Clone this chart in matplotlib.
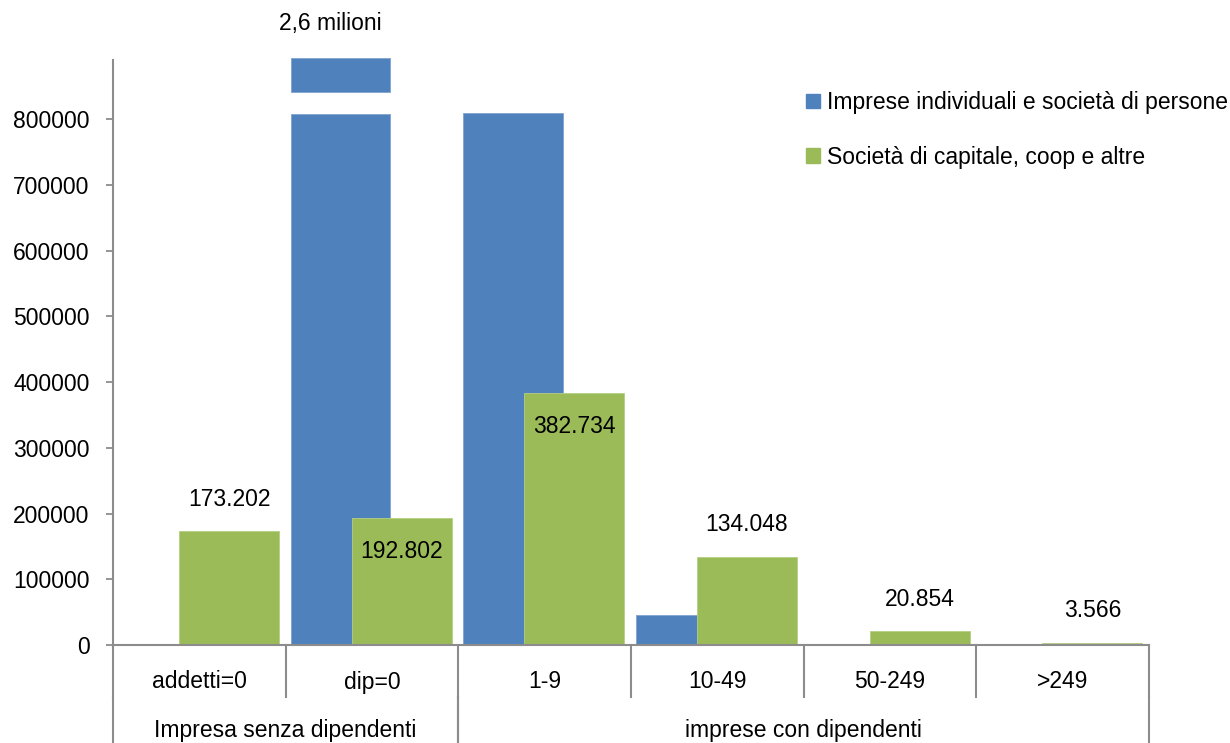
import matplotlib.pyplot as plt
from matplotlib.patches import Patch

plt.rcParams['font.family'] = ['Liberation Sans', 'DejaVu Sans']

categories = ['addetti=0', 'dip=0', '1-9', '10-49', '50-249', '>249']
groups = ['Impresa senza dipendenti', 'imprese con dipendenti']
group_spans = [(0, 2), (2, 6)]
series_names = ['Imprese individuali e società di persone',
                'Società di capitale, coop e altre']
blue_vals = [0, 2600000, 809000, 45600, 0, 0]
green_vals = [173202, 192802, 382734, 134048, 20854, 3566]
green_label_inside = [False, True, True, False, False, False]

# broken bar for dip=0 (real value 2,6 milioni)
break_low = 808000
break_high = 841000
break_top = 893000
big_label = '2,6 milioni'

blue = '#4F81BD'
green = '#9BBB59'
axis_gray = '#8c8c8c'
fs = 16.5


def fmt_it(v):
    return f'{v:,}'.replace(',', '.')


fig = plt.figure(figsize=(12.3, 7.43), dpi=100)
ax = fig.add_axes([113 / 1230, 98 / 743, 1036 / 1230, 585 / 743])

w = 0.578
off_b = 0.318
off_g = 0.672
ymax = 890000

for i, v in enumerate(blue_vals):
    if v > ymax:
        ax.bar(i + off_b, break_low, width=w, color=blue, edgecolor='#7fa3d0', linewidth=0.6)
        ax.bar(i + off_b, break_top - break_high, bottom=break_high, width=w,
               color=blue, edgecolor='#7fa3d0', linewidth=0.6, clip_on=False)
        ax.text(i + off_b - 0.06, 1.063, big_label, transform=ax.get_xaxis_transform(),
                ha='center', va='center', fontsize=fs)
    elif v > 0:
        ax.bar(i + off_b, v, width=w, color=blue, edgecolor='#7fa3d0', linewidth=0.6)

for i, v in enumerate(green_vals):
    ax.bar(i + off_g, v, width=w, color=green, edgecolor='#b5cf83', linewidth=0.6)
    if green_label_inside[i]:
        ax.annotate(fmt_it(v), (i + off_g, v), xytext=(0, -24), textcoords='offset points',
                    ha='center', va='center', fontsize=fs)
    else:
        ax.annotate(fmt_it(v), (i + off_g, v), xytext=(0, 23), textcoords='offset points',
                    ha='center', va='center', fontsize=fs)

ax.set_xlim(0, len(categories))
ax.set_ylim(0, ymax)
ax.set_yticks(range(0, 800001, 100000))
ax.set_yticklabels([str(t) for t in range(0, 800001, 100000)])
ax.tick_params(axis='y', direction='out', length=5, width=1.3, color=axis_gray,
               labelsize=fs, pad=12)
ax.set_xticks([])
for s in ['top', 'right']:
    ax.spines[s].set_visible(False)
for s in ['left', 'bottom']:
    ax.spines[s].set_color(axis_gray)
    ax.spines[s].set_linewidth(1.5)

# category axis: two rows of labels with separators
xt = ax.get_xaxis_transform()
row1 = -52 / 585
row2 = -98 / 585
for i in range(len(categories) + 1):
    ax.plot([i, i], [0, row1], transform=xt, color=axis_gray, lw=1.5, clip_on=False)
for i, c in enumerate(categories):
    ax.text(i + 0.5, -37 / 585, c, transform=xt, ha='center', va='center', fontsize=fs)
for (a, b), g in zip(group_spans, groups):
    for x in (a, b):
        ax.plot([x, x], [row1, row2], transform=xt, color=axis_gray, lw=1.5, clip_on=False)
    ax.text((a + b) / 2, -85 / 585, g, transform=xt, ha='center', va='center', fontsize=fs)

handles = [Patch(color=blue), Patch(color=green)]
ax.legend(handles, series_names, loc='upper left', bbox_to_anchor=(806 / 1230, 1 - 91 / 743),
          bbox_transform=fig.transFigure, frameon=False, fontsize=fs,
          handlelength=0.6, handleheight=0.6, handletextpad=0.3, labelspacing=1.38,
          borderpad=0, borderaxespad=0)

fig.savefig('out.png', dpi=100)
